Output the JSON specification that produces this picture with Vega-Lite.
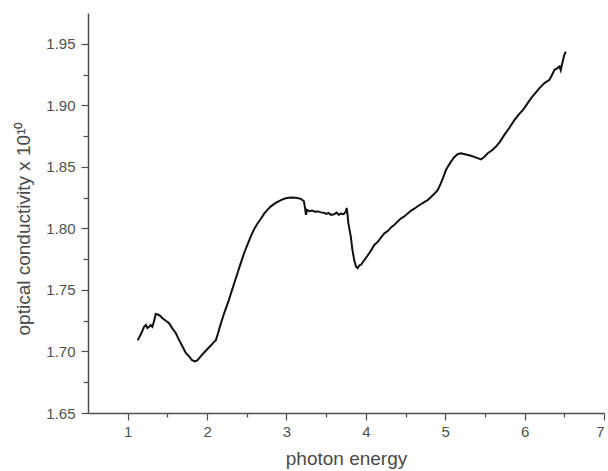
{
  "$schema": "https://vega.github.io/schema/vega-lite/v6.json",
  "autosize": "none",
  "width": 516,
  "height": 400,
  "padding": {"left": 88, "top": 13, "right": 4, "bottom": 58},
  "background": "white",
  "config": {
    "view": {"stroke": null},
    "axis": {
      "grid": false,
      "domainColor": "#4d4d4d",
      "domainWidth": 1.5,
      "tickColor": "#4d4d4d",
      "tickWidth": 1.2,
      "labelFont": "Liberation Sans",
      "labelFontSize": 15,
      "labelColor": "#505050",
      "titleFont": "Liberation Sans",
      "titleFontSize": 19,
      "titleFontWeight": "normal",
      "titleColor": "#4a4a4a"
    }
  },
  "data": {
    "values": [
      {"e": 1.126, "s": 1.709}, {"e": 1.15, "s": 1.712}, {"e": 1.18, "s": 1.716},
      {"e": 1.206, "s": 1.720}, {"e": 1.23, "s": 1.7215}, {"e": 1.248, "s": 1.719},
      {"e": 1.27, "s": 1.720}, {"e": 1.29, "s": 1.7215}, {"e": 1.31, "s": 1.720},
      {"e": 1.33, "s": 1.724}, {"e": 1.353, "s": 1.7305}, {"e": 1.38, "s": 1.730},
      {"e": 1.41, "s": 1.729}, {"e": 1.437, "s": 1.727}, {"e": 1.47, "s": 1.7255},
      {"e": 1.50, "s": 1.724}, {"e": 1.521, "s": 1.723}, {"e": 1.56, "s": 1.719},
      {"e": 1.605, "s": 1.715}, {"e": 1.65, "s": 1.709}, {"e": 1.69, "s": 1.704},
      {"e": 1.73, "s": 1.699}, {"e": 1.773, "s": 1.696}, {"e": 1.81, "s": 1.693},
      {"e": 1.849, "s": 1.692}, {"e": 1.88, "s": 1.693}, {"e": 1.92, "s": 1.696},
      {"e": 1.96, "s": 1.699}, {"e": 2.005, "s": 1.702}, {"e": 2.05, "s": 1.705},
      {"e": 2.09, "s": 1.708}, {"e": 2.11, "s": 1.709}, {"e": 2.139, "s": 1.715},
      {"e": 2.17, "s": 1.722}, {"e": 2.215, "s": 1.731}, {"e": 2.26, "s": 1.739},
      {"e": 2.30, "s": 1.747}, {"e": 2.34, "s": 1.755}, {"e": 2.383, "s": 1.7636},
      {"e": 2.42, "s": 1.771}, {"e": 2.467, "s": 1.780}, {"e": 2.51, "s": 1.787},
      {"e": 2.551, "s": 1.7935}, {"e": 2.59, "s": 1.799}, {"e": 2.635, "s": 1.804},
      {"e": 2.68, "s": 1.808}, {"e": 2.719, "s": 1.812}, {"e": 2.76, "s": 1.815},
      {"e": 2.80, "s": 1.8177}, {"e": 2.86, "s": 1.8205}, {"e": 2.93, "s": 1.823},
      {"e": 2.99, "s": 1.8245}, {"e": 3.055, "s": 1.825}, {"e": 3.12, "s": 1.8248},
      {"e": 3.18, "s": 1.824}, {"e": 3.20, "s": 1.823}, {"e": 3.22, "s": 1.822},
      {"e": 3.235, "s": 1.816}, {"e": 3.245, "s": 1.811}, {"e": 3.26, "s": 1.815},
      {"e": 3.286, "s": 1.814}, {"e": 3.32, "s": 1.8145}, {"e": 3.36, "s": 1.8135},
      {"e": 3.40, "s": 1.8138}, {"e": 3.434, "s": 1.813}, {"e": 3.47, "s": 1.8128},
      {"e": 3.50, "s": 1.8118}, {"e": 3.53, "s": 1.8125}, {"e": 3.56, "s": 1.811},
      {"e": 3.60, "s": 1.8115}, {"e": 3.63, "s": 1.8128}, {"e": 3.66, "s": 1.811},
      {"e": 3.686, "s": 1.812}, {"e": 3.72, "s": 1.8115}, {"e": 3.749, "s": 1.8137},
      {"e": 3.758, "s": 1.8166}, {"e": 3.768, "s": 1.812}, {"e": 3.78, "s": 1.804},
      {"e": 3.81, "s": 1.7935}, {"e": 3.83, "s": 1.783}, {"e": 3.854, "s": 1.774},
      {"e": 3.875, "s": 1.769}, {"e": 3.896, "s": 1.7676}, {"e": 3.92, "s": 1.770},
      {"e": 3.94, "s": 1.7705}, {"e": 3.96, "s": 1.7725}, {"e": 3.99, "s": 1.775},
      {"e": 4.023, "s": 1.778}, {"e": 4.06, "s": 1.7815}, {"e": 4.106, "s": 1.7866},
      {"e": 4.15, "s": 1.789}, {"e": 4.19, "s": 1.7925}, {"e": 4.233, "s": 1.796},
      {"e": 4.28, "s": 1.798}, {"e": 4.32, "s": 1.801}, {"e": 4.36, "s": 1.803},
      {"e": 4.40, "s": 1.8055}, {"e": 4.44, "s": 1.808}, {"e": 4.48, "s": 1.8095},
      {"e": 4.527, "s": 1.812}, {"e": 4.57, "s": 1.8145}, {"e": 4.61, "s": 1.816},
      {"e": 4.653, "s": 1.818}, {"e": 4.70, "s": 1.820}, {"e": 4.74, "s": 1.8215},
      {"e": 4.779, "s": 1.823}, {"e": 4.82, "s": 1.8255}, {"e": 4.86, "s": 1.828},
      {"e": 4.905, "s": 1.831}, {"e": 4.94, "s": 1.836}, {"e": 4.975, "s": 1.8415},
      {"e": 5.01, "s": 1.8476}, {"e": 5.06, "s": 1.853}, {"e": 5.115, "s": 1.858},
      {"e": 5.16, "s": 1.8605}, {"e": 5.199, "s": 1.861}, {"e": 5.26, "s": 1.860},
      {"e": 5.325, "s": 1.859}, {"e": 5.39, "s": 1.8575}, {"e": 5.451, "s": 1.856},
      {"e": 5.49, "s": 1.858}, {"e": 5.536, "s": 1.861}, {"e": 5.59, "s": 1.8635},
      {"e": 5.64, "s": 1.8665}, {"e": 5.69, "s": 1.8705}, {"e": 5.745, "s": 1.876},
      {"e": 5.81, "s": 1.882}, {"e": 5.871, "s": 1.888}, {"e": 5.92, "s": 1.892},
      {"e": 5.977, "s": 1.896}, {"e": 6.03, "s": 1.901}, {"e": 6.082, "s": 1.9058},
      {"e": 6.13, "s": 1.9095}, {"e": 6.187, "s": 1.914}, {"e": 6.25, "s": 1.918},
      {"e": 6.313, "s": 1.9207}, {"e": 6.34, "s": 1.924}, {"e": 6.376, "s": 1.9289},
      {"e": 6.41, "s": 1.930}, {"e": 6.44, "s": 1.9315}, {"e": 6.455, "s": 1.9285},
      {"e": 6.47, "s": 1.933}, {"e": 6.50, "s": 1.941}, {"e": 6.52, "s": 1.9435}
    ]
  },
  "mark": {"type": "line", "color": "#111111", "strokeWidth": 2, "interpolate": "linear"},
  "encoding": {
    "x": {
      "field": "e",
      "type": "quantitative",
      "scale": {"domain": [0.5, 7], "nice": false, "zero": false},
      "axis": {
        "title": "photon energy",
        "values": [1, 1.5, 2, 2.5, 3, 3.5, 4, 4.5, 5, 5.5, 6, 6.5, 7],
        "labelExpr": "datum.value % 1 === 0 ? format(datum.value, 'd') : ''",
        "tickSize": {"condition": {"test": "datum.value % 1 === 0", "value": 7}, "value": 4},
        "labelPadding": 4,
        "titlePadding": 10
      }
    },
    "y": {
      "field": "s",
      "type": "quantitative",
      "scale": {"domain": [1.65, 1.975], "nice": false, "zero": false},
      "axis": {
        "title": "optical conductivity x 10¹⁰",
        "titleY": 215,
        "values": [1.65, 1.675, 1.7, 1.725, 1.75, 1.775, 1.8, 1.825, 1.85, 1.875, 1.9, 1.925, 1.95],
        "labelExpr": "abs(datum.value * 20 - round(datum.value * 20)) < 0.001 ? format(datum.value, '.2f') : ''",
        "tickSize": {"condition": {"test": "abs(datum.value * 20 - round(datum.value * 20)) < 0.001", "value": 7}, "value": 5},
        "labelPadding": 6,
        "titlePadding": 12
      }
    }
  }
}
